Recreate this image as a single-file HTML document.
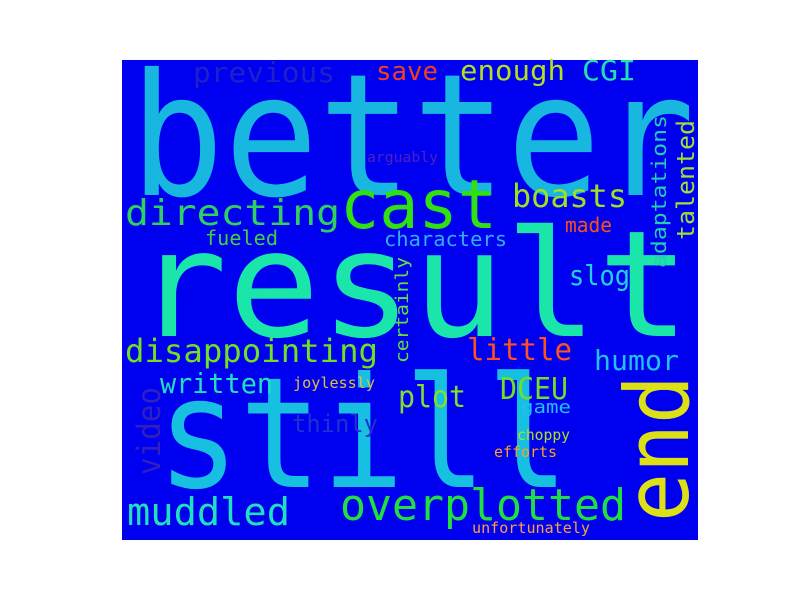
<!DOCTYPE html>
<html><head><meta charset="utf-8"><style>
html,body{margin:0;padding:0;background:#fff;}
svg{display:block;}
text{font-family:"DejaVu Sans Mono","Liberation Mono",monospace;}
</style></head><body>
<svg width="800" height="600" viewBox="0 0 800 600">
<rect x="122" y="60" width="576" height="480" fill="#0000f0"/>
<g>
<text x="130" y="195" font-size="170" fill="#17b7e0" textLength="565" lengthAdjust="spacingAndGlyphs">better</text>
<text x="135" y="336" font-size="148" fill="#1ae6aa" textLength="555" lengthAdjust="spacingAndGlyphs">result</text>
<text x="157" y="487" font-size="154" fill="#17c0e0" textLength="412" lengthAdjust="spacingAndGlyphs">still</text>
<text transform="translate(688,522) rotate(-90)" font-size="88" fill="#dde014" textLength="147" lengthAdjust="spacingAndGlyphs">end</text>
<text x="193" y="82" font-size="28" fill="#2020c8" textLength="142" lengthAdjust="spacingAndGlyphs">previous</text>
<text x="376" y="80" font-size="26" fill="#f04020" textLength="62" lengthAdjust="spacingAndGlyphs">save</text>
<text x="460" y="80" font-size="28" fill="#b0e020" textLength="105" lengthAdjust="spacingAndGlyphs">enough</text>
<text x="582" y="80" font-size="28" fill="#20e0b0" textLength="54" lengthAdjust="spacingAndGlyphs">CGI</text>
<text x="367" y="162" font-size="14" fill="#5020c0" textLength="71" lengthAdjust="spacingAndGlyphs">arguably</text>
<text x="125" y="225" font-size="36" fill="#30d060" textLength="215" lengthAdjust="spacingAndGlyphs">directing</text>
<text x="340" y="228" font-size="68" fill="#30e010" textLength="157" lengthAdjust="spacingAndGlyphs">cast</text>
<text x="512" y="207" font-size="32" fill="#a0e020" textLength="115" lengthAdjust="spacingAndGlyphs">boasts</text>
<text transform="translate(666,268) rotate(-90)" font-size="20" fill="#20d0b0" textLength="153" lengthAdjust="spacingAndGlyphs">adaptations</text>
<text transform="translate(694,240) rotate(-90)" font-size="24" fill="#a0e030" textLength="120" lengthAdjust="spacingAndGlyphs">talented</text>
<text x="565" y="232" font-size="20" fill="#ff5010" textLength="47" lengthAdjust="spacingAndGlyphs">made</text>
<text x="205" y="245" font-size="20" fill="#40d040" textLength="73" lengthAdjust="spacingAndGlyphs">fueled</text>
<text x="384" y="246" font-size="20" fill="#30b0f0" textLength="123" lengthAdjust="spacingAndGlyphs">characters</text>
<text x="569" y="285" font-size="28" fill="#20d0e0" textLength="61" lengthAdjust="spacingAndGlyphs">slog</text>
<text transform="translate(408,363) rotate(-90)" font-size="18" fill="#60e040" textLength="106" lengthAdjust="spacingAndGlyphs">certainly</text>
<text x="125" y="362" font-size="32" fill="#70e020" textLength="253" lengthAdjust="spacingAndGlyphs">disappointing</text>
<text x="467" y="360" font-size="30" fill="#ff5020" textLength="105" lengthAdjust="spacingAndGlyphs">little</text>
<text x="594" y="370" font-size="28" fill="#20c0f0" textLength="85" lengthAdjust="spacingAndGlyphs">humor</text>
<text x="160" y="393" font-size="28" fill="#20e0c0" textLength="113" lengthAdjust="spacingAndGlyphs">written</text>
<text x="293" y="388" font-size="15" fill="#e0c040" textLength="82" lengthAdjust="spacingAndGlyphs">joylessly</text>
<text transform="translate(160,475) rotate(-90)" font-size="32" fill="#3020c0" textLength="88" lengthAdjust="spacingAndGlyphs">video</text>
<text x="500" y="399" font-size="30" fill="#70e020" textLength="68" lengthAdjust="spacingAndGlyphs">DCEU</text>
<text x="398" y="407" font-size="30" fill="#80e030" textLength="68" lengthAdjust="spacingAndGlyphs">plot</text>
<text x="521" y="413" font-size="18" fill="#20c0f0" textLength="50" lengthAdjust="spacingAndGlyphs">game</text>
<text x="292" y="432" font-size="24" fill="#2030d0" textLength="86" lengthAdjust="spacingAndGlyphs">thinly</text>
<text x="517" y="440" font-size="15" fill="#b0e020" textLength="53" lengthAdjust="spacingAndGlyphs">choppy</text>
<text x="494" y="457" font-size="15" fill="#ffa020" textLength="63" lengthAdjust="spacingAndGlyphs">efforts</text>
<text x="127" y="525" font-size="38" fill="#20e0c0" textLength="163" lengthAdjust="spacingAndGlyphs">muddled</text>
<text x="340" y="520" font-size="44" fill="#20e040" textLength="286" lengthAdjust="spacingAndGlyphs">overplotted</text>
<text x="472" y="533" font-size="15" fill="#ffa040" textLength="118" lengthAdjust="spacingAndGlyphs">unfortunately</text>
</g>
</svg>
</body></html>
